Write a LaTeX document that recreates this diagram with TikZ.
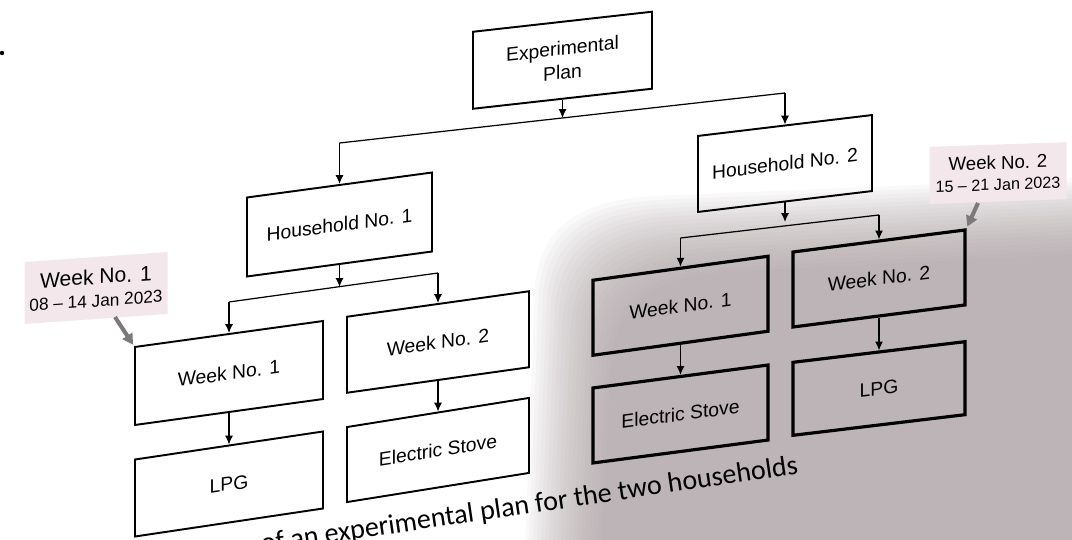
\documentclass[tikz,border=0pt]{standalone}
\usepackage{fontspec}
\setmainfont{Liberation Sans}
\newfontfamily\capfont{Carlito}
\usetikzlibrary{arrows.meta,calc}
\definecolor{shadowc}{RGB}{168,156,158}
\definecolor{labelbg}{RGB}{244,231,235}
\definecolor{arrowgray}{RGB}{125,120,122}
\newcommand\mybox[8]{%
  \begin{scope}[shift={(#2,-#3)}, yslant=#6, transform shape]
    \node[#7, minimum width=#4*0.02cm, minimum height=#5*0.02cm] (#1) at (0,0) {#8};
  \end{scope}}
\begin{document}
\begin{tikzpicture}[x=0.02cm, y=0.02cm,
  boxL/.style={draw, line width=1.1pt, inner sep=0pt, align=center, font=\fontsize{11}{13.5}\selectfont},
  boxR/.style={draw, line width=1.8pt, inner sep=0pt, align=center, font=\fontsize{11}{13.5}\selectfont},
  lab/.style={fill=labelbg, inner sep=0pt, align=center},
  bus/.style={draw, line width=0.7pt},
  conn/.style={draw, line width=0.7pt, -{Latex[length=5pt,width=4.5pt]}},
  garrow/.style={draw=arrowgray, line width=2.3pt, -{Triangle[length=6pt,width=6.5pt]}, shorten >=1pt}]
\useasboundingbox (0,-540) rectangle (1072,0);
\clip (0,-540) rectangle (1072,0);
\fill[white] (0,-540) rectangle (1072,0);
% photo shadow
\foreach \d in {0,4,...,76}{
  \fill[shadowc, fill opacity=0.06] (525+\d,-545) -- (535+\d,-285-\d) .. controls (542+\d,-222-\d) and (585+\d,-200-\d) .. (655+\d,-196-\d) -- (1080,-178-\d) -- (1080,-545) -- cycle;
}
% stray dot
\fill (2,-53) circle (2.2);
% boxes
\mybox{ep}{562.5}{60.25}{179}{77}{0.112}{boxL}{Experimental\\Plan}
\mybox{hh1}{339.5}{224.5}{185}{79}{0.135}{boxL}{Household No. 1}
\mybox{hh2}{785}{163.5}{174}{76}{0.12}{boxL}{Household No. 2}
\mybox{w1L}{229}{373}{188}{78}{0.138}{boxL}{Week No. 1}
\mybox{w2L}{438}{342}{182}{76}{0.14}{boxL}{Week No. 2}
\mybox{lpgL}{229}{484}{188}{77}{0.149}{boxL}{LPG}
\mybox{esL}{438}{450}{182}{75}{0.16}{boxL}{Electric Stove}
\mybox{w1R}{680.5}{305.75}{175}{75}{0.137}{boxR}{Week No. 1}
\mybox{w2R}{879}{278.5}{172}{75}{0.128}{boxR}{Week No. 2}
\mybox{esR}{680.5}{414}{175}{75}{0.131}{boxR}{Electric Stove}
\mybox{lpgR}{879}{388.5}{172}{73}{0.12}{boxR}{LPG}
% labels
\mybox{lab1}{96}{288}{143}{62}{0.07}{lab}{{\fontsize{12}{14}\selectfont Week No. 1}\\[1pt]{\fontsize{9.8}{12}\selectfont 08 – 14 Jan 2023}}
\mybox{lab2}{998}{173}{137}{57}{0.035}{lab}{{\fontsize{10.6}{12}\selectfont Week No. 2}\\[0pt]{\fontsize{9.2}{11}\selectfont 15 – 21 Jan 2023}}
% connectors level 1
\coordinate (j1) at (562.5,-118);
\coordinate (b1L) at (339.5,-143);
\coordinate (b1R) at (785,-93);
\draw[conn] (ep.south) -- (j1);
\draw[bus] (b1L) -- (b1R);
\draw[conn] (b1L) -- (hh1.north);
\draw[conn] (b1R) -- (hh2.north);
% level 2 left
\coordinate (j2) at (339.5,-287);
\coordinate (b2L) at (229,-302);
\coordinate (b2R) at (438,-273);
\draw[conn] (hh1.south) -- (j2);
\draw[bus] (b2L) -- (b2R);
\draw[conn] (b2L) -- (w1L.north);
\draw[conn] (b2R) -- (w2L.north);
% level 2 right
\coordinate (j3) at (785,-222);
\coordinate (b3L) at (680.5,-238);
\coordinate (b3R) at (879,-215);
\draw[conn] (hh2.south) -- (j3);
\draw[bus] (b3L) -- (b3R);
\draw[conn] (b3L) -- (w1R.north);
\draw[conn] (b3R) -- (w2R.north);
% level 3
\draw[conn] (w1L.south) -- (lpgL.north);
\draw[conn] (w2L.south) -- (esL.north);
\draw[conn] (w1R.south) -- (esR.north);
\draw[conn] (w2R.south) -- (lpgR.north);
% label pointers
\coordinate (a1) at (115,-317);
\coordinate (a2) at (978,-203);
\draw[garrow] (a1) -- (w1L.north west);
\draw[garrow] (a2) -- (w2R.north east);
% caption
\node[rotate=8.4, anchor=base west, inner sep=0pt, font=\capfont\fontsize{16}{19}\selectfont] (cap) at (262,-553) {of an experimental plan for the two households};
\end{tikzpicture}
\end{document}
